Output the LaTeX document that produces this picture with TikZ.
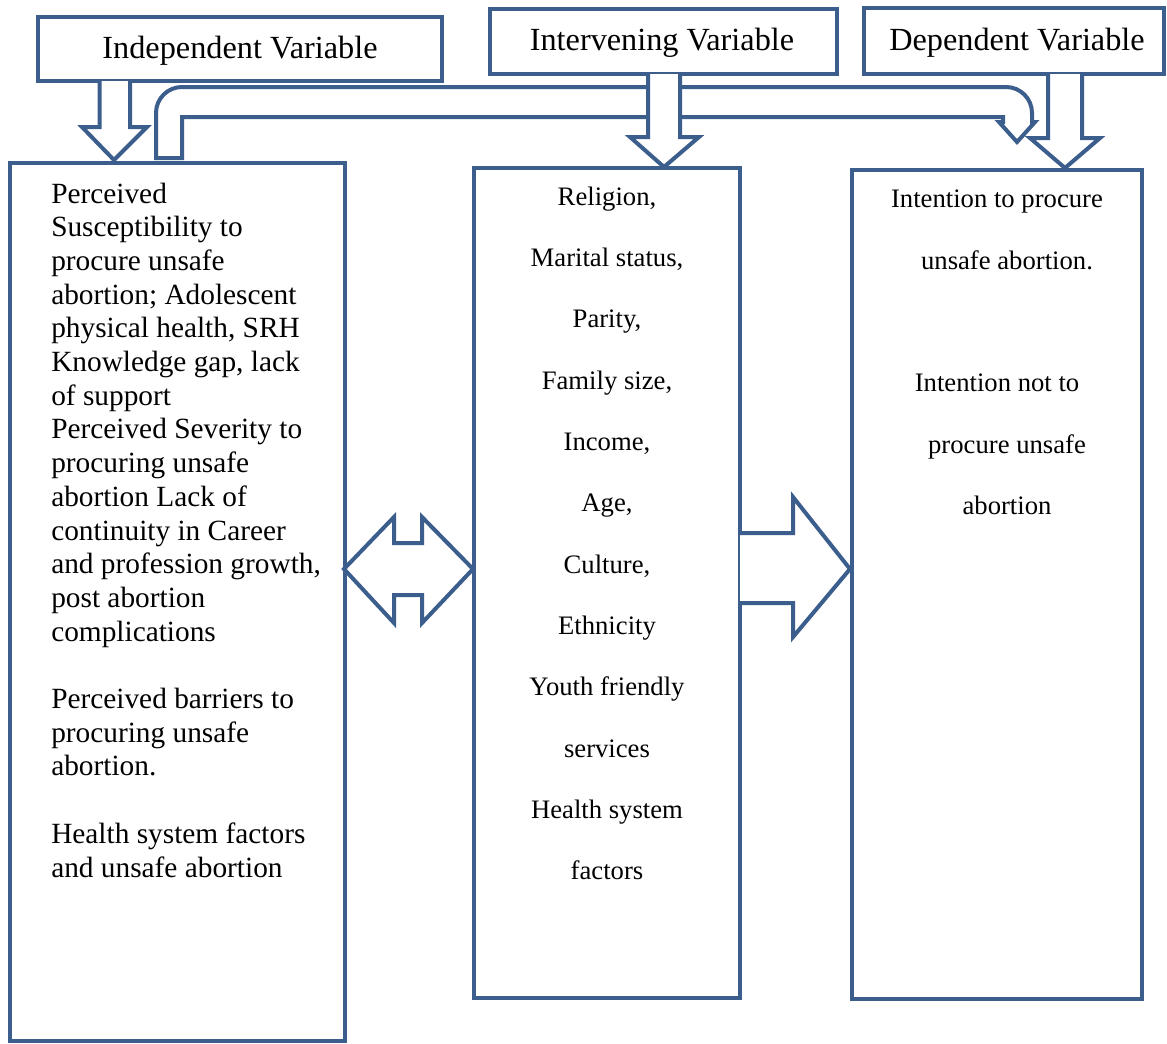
\documentclass[tikz,border=0pt]{standalone}
\usepackage{fontspec}
\setmainfont{Liberation Serif}
\definecolor{bc}{HTML}{3B5E8D}
\begin{document}
\begin{tikzpicture}[x=0.75pt,y=-0.75pt,
  box/.style={draw=bc,line width=3pt,fill=white,inner sep=0pt,rectangle},
  barrow/.style={draw=bc,line width=3pt,fill=white,line join=miter},
  headtxt/.style={font=\fontsize{24.2}{28}\selectfont,inner sep=0pt,anchor=base},
  ltxt/.style={font=\fontsize{22}{26}\selectfont,inner sep=0pt,anchor=base west},
  ctxt/.style={font=\fontsize{20}{24}\selectfont,inner sep=0pt,anchor=base}]
\useasboundingbox (0,0) rectangle (1167,1043);

% header boxes
\node[box,minimum width=303pt,minimum height=48pt] (indepH) at (240,49) {};
\node[box,minimum width=260.25pt,minimum height=48.75pt] (interH) at (663.5,41.5) {};
\node[box,minimum width=225pt,minimum height=49.5pt] (depH) at (1014,41) {};
\node[headtxt] (indepT) at (240,58) {Independent Variable};
\node[headtxt] (interT) at (662,50) {Intervening Variable};
\node[headtxt] (depT) at (1017,50) {Dependent Variable};

% main boxes
\node[box,minimum width=251.25pt,minimum height=658.5pt] (left) at (177.5,602) {};
\node[box,minimum width=199.5pt,minimum height=622.5pt] (mid) at (607,583) {};
\node[box,minimum width=217.5pt,minimum height=621.75pt] (right) at (997,584.5) {};

% bent band arrow
\filldraw[barrow] (156,158) -- (156,113) .. controls (156,98.6) and (167.6,87) .. (182,87)
  -- (1006,87) .. controls (1020.4,87) and (1032,98.6) .. (1032,113)
  -- (1032,122) -- (1035,122) -- (1017,142) -- (999,122) -- (1003,122)
  -- (1003,117) -- (182,117) -- (182,158) -- cycle;

% down block arrows
\filldraw[barrow] (99.5,81) -- (99.5,127) -- (82,127) -- (114,160) -- (147,127) -- (130,127) -- (130,81);
\filldraw[barrow] (648,74) -- (648,137) -- (630,137) -- (664,167) -- (699,137) -- (680,137) -- (680,74);
\filldraw[barrow] (1048,74) -- (1048,138) -- (1030,138) -- (1065,168) -- (1100,138) -- (1082,138) -- (1082,74);

% double arrow between left and middle
\filldraw[barrow] (344,569) -- (394,517) -- (394,543) -- (422,543) -- (422,517) -- (473,569)
  -- (422,623) -- (422,595) -- (394,595) -- (394,623) -- cycle;

% right arrow between middle and right
\filldraw[barrow] (740,533) -- (793,533) -- (793,497) -- (850,569) -- (793,637) -- (793,603) -- (740,603);

% left box text
\foreach \t [count=\i] in {Perceived, Susceptibility to, procure unsafe,
  {abortion; Adolescent}, {physical health, SRH}, {Knowledge gap, lack}, of support,
  Perceived Severity to, procuring unsafe, abortion Lack of, continuity in Career,
  {and profession growth,}, post abortion, complications}
  \node[ltxt] (la\i) at (51,{203+(\i-1)*33.7}) {\t};
\foreach \t [count=\i] in {Perceived barriers to, procuring unsafe, abortion.}
  \node[ltxt] (lb\i) at (51,{708.5+(\i-1)*33.7}) {\t};
\foreach \t [count=\i] in {Health system factors, and unsafe abortion}
  \node[ltxt] (lc\i) at (51,{843.3+(\i-1)*33.7}) {\t};

% middle box text
\foreach \t [count=\i] in {{Religion,}, {Marital status,}, {Parity,}, {Family size,},
  {Income,}, {Age,}, {Culture,}, Ethnicity, Youth friendly, services, Health system, factors}
  \node[ctxt] (m\i) at (607,{205+(\i-1)*61.36}) {\t};

% right box text
\node[ctxt] (r1) at (997,207) {Intention to procure};
\node[ctxt] (r2) at (1007,269) {unsafe abortion.};
\node[ctxt] (r3) at (997,391) {Intention not to};
\node[ctxt] (r4) at (1007,453) {procure unsafe};
\node[ctxt] (r5) at (1007,514) {abortion};
\end{tikzpicture}
\end{document}
